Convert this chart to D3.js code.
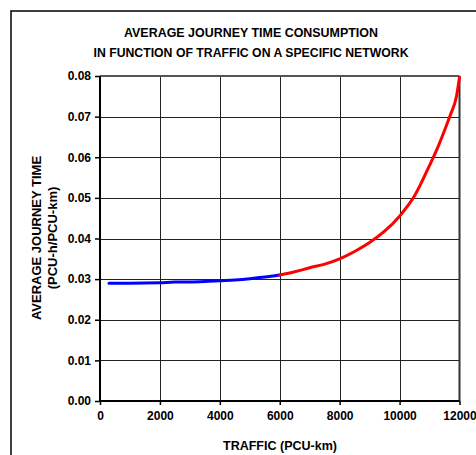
<!DOCTYPE html>
<html><head><meta charset="utf-8">
<script src="https://cdn.jsdelivr.net/npm/d3@7"></script>
<style>body{margin:0;background:#fff}svg{display:block}text{font-family:"Liberation Sans",Arial,sans-serif;font-weight:bold;fill:#000}</style>
</head><body>
<script>
const titleLines = ["AVERAGE JOURNEY TIME CONSUMPTION", "IN FUNCTION OF TRAFFIC ON A SPECIFIC NETWORK"];
const yTitleLines = ["AVERAGE JOURNEY TIME", "(PCU-h/PCU-km)"];
const xTitle = "TRAFFIC (PCU-km)";
const xTicks = [0, 2000, 4000, 6000, 8000, 10000, 12000];
const yTicks = [0, 0.01, 0.02, 0.03, 0.04, 0.05, 0.06, 0.07, 0.08];
const blueX = [300, 1000, 2000, 2500, 3000, 3500, 4000, 4500, 5000, 5500, 6000];
const blueY = [0.0290, 0.0290, 0.0291, 0.0293, 0.0293, 0.0294, 0.0296, 0.0298, 0.0301, 0.0305, 0.0310];
const redX = [6000, 6500, 7000, 7500, 8000, 8500, 9000, 9500, 10000, 10500, 11000, 11250, 11500, 11700, 11900, 12000];
const redY = [0.0310, 0.0318, 0.0328, 0.0337, 0.0350, 0.0368, 0.0390, 0.0418, 0.0455, 0.0505, 0.0580, 0.0620, 0.0666, 0.0705, 0.0750, 0.0797];

const W = 476, H = 455;
const svg = d3.select("body").append("svg").attr("width", W).attr("height", H);
const x = d3.scaleLinear().domain([0, 12000]).range([100, 459.5]);
const y = d3.scaleLinear().domain([0, 0.08]).range([401, 76]);

// outer frame
svg.append("rect").attr("x", 11).attr("y", 11).attr("width", 480).attr("height", 460)
  .attr("fill", "none").attr("stroke", "#000").attr("stroke-width", 1.5);

// title
const tW = [254, 315];
titleLines.forEach((t, i) => {
  svg.append("text").attr("x", 251).attr("y", 37 + i * 20).attr("text-anchor", "middle")
    .attr("font-size", 13).attr("textLength", tW[i]).attr("lengthAdjust", "spacingAndGlyphs").text(t);
});

// grid
const g = svg.append("g");
g.selectAll(".vg").data(xTicks.slice(1, -1)).join("line")
  .attr("x1", d => Math.round(x(d)) + 0.5).attr("x2", d => Math.round(x(d)) + 0.5)
  .attr("y1", y(0.08)).attr("y2", y(0)).attr("stroke", "#222").attr("stroke-width", 1);
g.selectAll(".hg").data(yTicks.slice(1, -1)).join("line")
  .attr("y1", d => Math.round(y(d)) + 0.5).attr("y2", d => Math.round(y(d)) + 0.5)
  .attr("x1", x(0)).attr("x2", x(12000)).attr("stroke", "#222").attr("stroke-width", 1);
// top and right frame
svg.append("line").attr("x1", x(0)).attr("x2", x(12000)).attr("y1", y(0.08)).attr("y2", y(0.08))
  .attr("stroke", "#555").attr("stroke-width", 2);
svg.append("line").attr("x1", x(12000)).attr("x2", x(12000)).attr("y1", y(0.08)).attr("y2", y(0))
  .attr("stroke", "#333").attr("stroke-width", 2);

// axes
const yAxis = d3.axisLeft(y).tickValues(yTicks).tickFormat(d3.format(".2f")).tickSize(5).tickPadding(4);
const ya = svg.append("g").attr("transform", `translate(${x(0)},0)`).call(yAxis);
const xAxis = d3.axisBottom(x).tickValues(xTicks).tickFormat(d3.format("d")).tickSize(4).tickPadding(6);
const xa = svg.append("g").attr("transform", `translate(0,${y(0)})`).call(xAxis);
[ya, xa].forEach(a => {
  a.select(".domain").attr("stroke", "#000").attr("stroke-width", 2);
  a.selectAll(".tick line").attr("stroke", "#000").attr("stroke-width", 1.5);
  a.selectAll(".tick text").attr("font-size", 12).attr("font-family", "Liberation Sans, Arial, sans-serif").attr("font-weight", "bold").attr("fill", "#000");
});
ya.select(".domain").attr("d", `M0,${y(0.08)}V${y(0)}`);
xa.select(".domain").attr("d", `M${x(0)},0H${x(12000)}`);

// lines
const line = d3.line().x(d => x(d[0])).y(d => y(d[1])).curve(d3.curveMonotoneX);
svg.append("path").datum(blueX.map((v, i) => [v, blueY[i]])).attr("d", line)
  .attr("fill", "none").attr("stroke", "#0000ff").attr("stroke-width", 3).attr("stroke-linecap", "round");
svg.append("path").datum(redX.map((v, i) => [v, redY[i]])).attr("d", line)
  .attr("fill", "none").attr("stroke", "#ff0000").attr("stroke-width", 3).attr("stroke-linecap", "round");

// axis titles
svg.append("text").attr("x", 280).attr("y", 450).attr("text-anchor", "middle").attr("font-size", 13)
  .attr("textLength", 114).attr("lengthAdjust", "spacingAndGlyphs").text(xTitle);
yTitleLines.forEach((t, i) => {
  svg.append("text").attr("transform", `translate(${41 + i * 16},238) rotate(-90)`).attr("text-anchor", "middle")
    .attr("font-size", 13).text(t);
});
</script>
</body></html>
